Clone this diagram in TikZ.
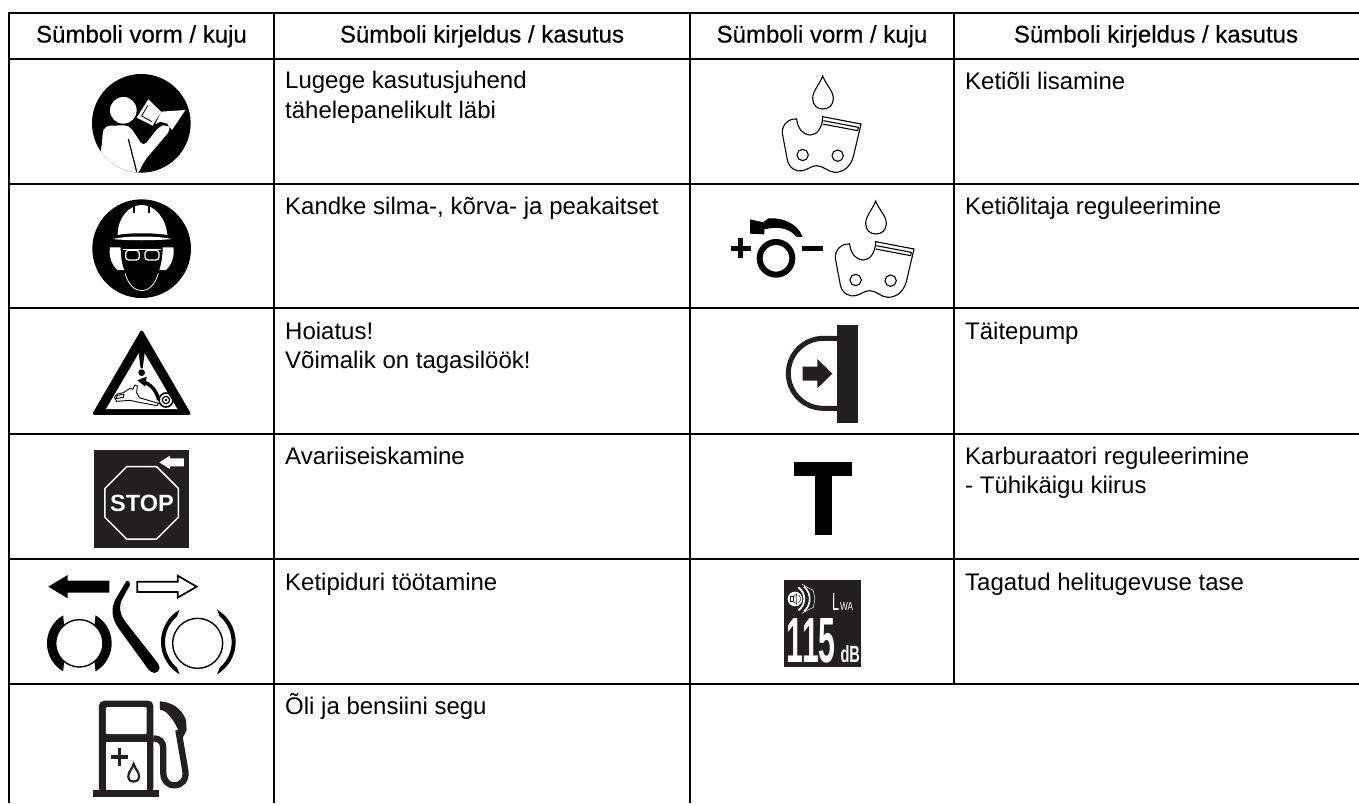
\documentclass[tikz,border=0pt]{standalone}
\usepackage{fontspec}
\usepackage{graphicx}
\usetikzlibrary{calc}
\setmainfont{Liberation Sans}
\newfontfamily\hdrfont[FakeBold=0.5]{Liberation Sans}
\definecolor{ink}{HTML}{231F20}
\tikzset{
  rule/.style={line width=2pt,black},
  thinrule/.style={line width=1.5pt,black},
  headtext/.style={anchor=base,inner sep=0pt,font=\hdrfont\fontsize{24}{28}\selectfont},
  desc/.style={anchor=base west,inner sep=0pt,align=left,font=\fontsize{24}{29.5}\selectfont},
  zoomed/.style={scale=1/3},
  linkline/.style={line width=1.1pt,black}
}
\newcommand{\oillink}[2]{%
 \begin{scope}[shift={(#1,#2)},zoomed]
  \draw[linkline] (428,228) .. controls (418,255) and (398,272) .. (398,296) .. controls (398,316) and (412,327) .. (428,327) .. controls (446,327) and (460,316) .. (460,296) .. controls (460,272) and (438,255) .. (428,228) -- cycle;
  \draw[linkline] (350,357) .. controls (325,355) and (305,375) .. (307,400) -- (322,480) .. controls (327,505) and (350,517) .. (368,512) .. controls (385,508) and (395,497) .. (410,497) .. controls (430,497) and (445,517) .. (465,517) .. controls (490,517) and (512,500) .. (520,470) -- (543,372) -- (428,350) .. controls (428,380) and (412,405) .. (392,405) .. controls (370,405) and (352,385) .. (350,357) -- cycle;
  \draw[linkline] (430,362) -- (535,382) -- (533,392) -- (428,372);
  \draw[linkline] (368,465) circle[radius=17];
  \draw[linkline] (473,467) circle[radius=17];
 \end{scope}}
\newcommand{\shoe}[5]{% centre x,y, mid angle, outer r, inner r
 \fill[black] ($(#1,#2)+(#3-60:#4)$) arc[start angle=#3-60,end angle=#3+60,radius=#4] -- ($(#1,#2)+(#3+50:#5)$) arc[start angle=#3+50,end angle=#3-50,radius=#5] -- cycle;}
\begin{document}
\begin{tikzpicture}[x=1pt,y=-1pt]
\useasboundingbox (0,0) rectangle (1359,803);
% table rules
\foreach \yy in {13.3,59,183.7,308.3,434,559,684}{\draw[rule] (8,\yy) -- (1359,\yy);}
\draw[rule] (9,12.3) -- (9,803);
\draw[rule] (274,12.3) -- (274,803);
\draw[rule] (690,12.3) -- (690,803);
\draw[thinrule] (954,12.3) -- (954,684);
% headers
\node[headtext] (h1) at (141.5,42.5) {Sümboli vorm / kuju};
\node[headtext] (h2) at (482,42.5) {Sümboli kirjeldus / kasutus};
\node[headtext] (h3) at (822,42.5) {Sümboli vorm / kuju};
\node[headtext] (h4) at (1156,42.5) {Sümboli kirjeldus / kasutus};
% descriptions (anchored on the last line's baseline)
\node[desc] (t1) at (285,118.3) {Lugege kasutusjuhend\\tähelepanelikult läbi};
\node[desc] (t2) at (285,214) {Kandke silma-, kõrva- ja peakaitset};
\node[desc] (t3) at (285,368.5) {Hoiatus!\\Võimalik on tagasilöök!};
\node[desc] (t4) at (285,464.5) {Avariiseiskamine};
\node[desc] (t5) at (285,590) {Ketipiduri töötamine};
\node[desc] (t6) at (285,714) {Õli ja bensiini segu};
\node[desc] (t7) at (965,89) {Ketiõli lisamine};
\node[desc] (t8) at (965,214) {Ketiõlitaja reguleerimine};
\node[desc] (t9) at (965,339) {Täitepump};
\node[desc] (t10) at (965,493.5) {Karburaatori reguleerimine\\- Tühikäigu kiirus};
\node[desc] (t11) at (965,590) {Tagatud helitugevuse tase};
% icon 1: read manual
\begin{scope}[shift={(80,65)},zoomed]
 \fill[black] (184,175) circle[radius=148];
 \begin{scope}
  \clip (184,175) circle[radius=148];
  \fill[white] (130,136) circle[radius=40];
  \fill[white,rounded corners=5pt] (67,230) -- (67,205) -- (75,182) -- (148,181) -- (190,245) -- (238,184) -- (262,178) -- (274,192) -- (195,285) -- (172,330) -- (50,330) -- cycle;
  \draw[black,line width=1.2pt] (145,222) -- (170,320);
  \fill[white] (205,103) -- (170,158) -- (218,182) -- (243,140) -- cycle;
  \draw[black,line width=.8pt] (203,122) -- (185,153) -- (216,170);
  \fill[white] (243,140) -- (316,135) -- (276,195) -- (262,176) -- (240,170) -- (226,178) -- cycle;
 \end{scope}
\end{scope}
% icon 2: protective gear
\begin{scope}[shift={(80,190)},zoomed]
 \fill[black] (185,176) circle[radius=148];
 \fill[white] (113,135) .. controls (113,85) and (145,45) .. (185,45) .. controls (225,45) and (258,85) .. (262,135) .. controls (225,128) and (145,128) .. (113,135) -- cycle;
 \fill[black] (160,40) rectangle (166,68);
 \fill[black] (204,40) rectangle (210,68);
 \fill[white] (98,147) .. controls (140,137) and (230,137) .. (276,147) .. controls (230,152) and (140,152) .. (98,147) -- cycle;
 \fill[white] (90,172) -- (122,172) .. controls (122,195) and (125,220) .. (132,240) -- (112,240) .. controls (95,225) and (85,195) .. (90,172) -- cycle;
 \fill[white] (280,172) -- (248,172) .. controls (248,195) and (245,220) .. (238,240) -- (258,240) .. controls (275,225) and (285,195) .. (280,172) -- cycle;
 \draw[white,line width=1.3pt,rounded corners=3pt] (137,181) rectangle (178,210);
 \draw[white,line width=1.3pt,rounded corners=3pt] (195,181) rectangle (237,210);
 \draw[white,line width=1.3pt] (128,178) -- (242,178);
 \draw[white,line width=.8pt] (135,250) .. controls (145,285) and (165,302) .. (185,302) .. controls (205,302) and (225,285) .. (235,250);
\end{scope}
% icon 3: warning triangle
\begin{scope}[shift={(80,320)},zoomed]
 \filldraw[black,line width=3pt,line join=round] (185,36) -- (43,280) -- (327,280) -- cycle;
 \fill[white] (185,85) -- (78,267) -- (292,267) -- cycle;
 \fill[black] (175,92) .. controls (175,84) and (195,84) .. (195,92) -- (188,145) -- (182,145) -- cycle;
 \fill[black] (185,158) circle[radius=10];
 \draw[black,line width=3.5pt] (236,240) .. controls (230,212) and (212,192) .. (190,186);
 \fill[black] (172,181) -- (200,170) -- (196,200) -- cycle;
 \draw[black,line width=.9pt] (103,232) -- (112,222) -- (130,218) -- (150,205) -- (158,208) -- (165,195) -- (172,198) -- (170,218) -- (178,233) -- (235,250) -- (232,257) -- (172,246) -- (150,241) -- (110,244) -- cycle;
 \draw[black,line width=.9pt] (112,226) -- (108,236) -- (130,232) -- (132,223) -- cycle;
 \begin{scope}
  \clip (78,267) -- (292,267) -- (292,200) -- (200,200) -- cycle;
  \draw[black,line width=1.6pt] (258,240) circle[radius=21];
  \draw[black,line width=1.2pt] (258,240) circle[radius=11];
  \fill[black] (258,240) circle[radius=4];
 \end{scope}
\end{scope}
% icon 4: stop
\fill[ink] (94,450) rectangle (188.7,547.5);
\begin{scope}[shift={(0,265)},zoomed]
 \draw[white,line width=1.5pt] (380,605) -- (470,605) -- (535,670) -- (535,757) -- (470,822) -- (380,822) -- (315,757) -- (315,670) -- cycle;
 \node[white,inner sep=0pt,font=\bfseries\fontsize{23.5}{24}\selectfont] (stoptext) at (426,715) {STOP};
 \fill[white] (478,592) -- (510,572) -- (510,580) -- (552,580) -- (552,604) -- (510,604) -- (510,612) -- cycle;
\end{scope}
% icon 5: chain brake
\begin{scope}[shift={(0,530)},zoomed]
 \fill[black] (145,170) -- (203,135) -- (203,152) -- (328,152) -- (328,188) -- (203,188) -- (203,205) -- cycle;
 \draw[black,line width=1.7pt,fill=white] (412,155) -- (533,155) -- (533,137) -- (590,170) -- (533,203) -- (533,186) -- (412,186) -- cycle;
 \fill[black,rounded corners=2pt] (381,150) -- (393,160) -- (368,205) .. controls (358,225) and (358,245) .. (372,270) -- (478,405) -- (450,425) -- (352,290) .. controls (335,260) and (335,235) .. (345,210) -- cycle;
 \fill[black] (463,413) circle[radius=16];
 \draw[black,line width=1.4pt] (238,340) circle[radius=71];
 \shoe{238}{340}{180}{97}{71}
 \shoe{238}{340}{0}{97}{71}
 \draw[black,line width=1.4pt] (593,340) circle[radius=75];
 \shoe{595}{336}{180}{112}{100}
 \shoe{595}{336}{0}{112}{100}
\end{scope}
% icon 6: fuel pump
\begin{scope}[shift={(0,530)},zoomed]
 \fill[ink] (280,780) rectangle (477,801);
 \fill[ink,rounded corners=5pt] (297,790) -- (297,512) -- (460,512) -- (460,790) -- cycle;
 \fill[white,rounded corners=1pt] (318,531) rectangle (440,612);
 \fill[white] (318,636) rectangle (440,780);
 \fill[ink] (333,676) rectangle (384,686);
 \fill[ink] (353,655) rectangle (364,707);
 \draw[ink,line width=2.2pt] (401,702) .. controls (395,720) and (385,725) .. (385,739) .. controls (385,750) and (392,755) .. (401,755) .. controls (410,755) and (417,750) .. (417,739) .. controls (417,725) and (407,720) .. (401,702) -- cycle;
 \draw[ink,line width=6.3pt] (460,625) .. controls (478,625) and (490,635) .. (490,655) -- (490,730) .. controls (490,752) and (505,766) .. (522,766) .. controls (545,766) and (560,750) .. (556,722) -- (535,600);
 \fill[ink] (480,514) .. controls (515,516) and (545,535) .. (558,570) -- (560,600) -- (546,628) .. controls (535,600) and (525,575) .. (510,560) .. controls (500,545) and (490,540) .. (480,540) -- cycle;
\end{scope}
% right column icons
\oillink{680}{0}
\oillink{733}{125}
\begin{scope}[shift={(730,190)},zoomed]
 \fill[black] (3,168) rectangle (62,182);
 \fill[black] (25,143) rectangle (38,205);
 \draw[black,line width=6pt] (138,205) circle[radius=49];
 \fill[black] (216,168) rectangle (278,182);
 \fill[black] (60,88) -- (60,131) -- (103,133) -- (103,118) .. controls (145,108) and (180,115) .. (198,140) -- (218,141) .. controls (205,105) and (165,82) .. (115,85) -- (100,97) -- cycle;
\end{scope}
\begin{scope}[shift={(680,265)},zoomed]
 \fill[ink] (472,180) rectangle (534,473);
 \draw[ink,line width=5pt] (472,220) -- (430,220) arc[start angle=-90,end angle=-270,radius=105] -- (472,430);
 \fill[ink] (368,305) -- (412,305) -- (412,282) -- (457,326) -- (412,370) -- (412,347) -- (368,347) -- cycle;
 \fill[black] (342,591) rectangle (517,634);
 \fill[black] (406,634) rectangle (455,809);
\end{scope}
% sound level
\fill[ink] (784,580) rectangle (861,667);
\begin{scope}[shift={(780,530)},zoomed]
 \node[white,inner sep=0pt,anchor=south west] (n115) at (20,400) {\resizebox{49pt}{44pt}{\bfseries 115}};
 \node[white,inner sep=0pt,anchor=south west] (ndb) at (181,400) {\resizebox{19.5pt}{17pt}{\bfseries dB}};
 \node[white,inner sep=0pt,anchor=south west] (nl) at (156,243) {\resizebox{7pt}{17pt}{L}};
 \node[white,inner sep=0pt,anchor=south west] (nwa) at (180,243) {\resizebox{13pt}{8pt}{WA}};
 \fill[white] (45,207) circle[radius=22];
 \draw[ink,line width=.6pt] (32,200) rectangle (40,214);
 \draw[ink,line width=.6pt] (40,200) -- (50,192) -- (50,222) -- (40,214);
 \draw[ink,line width=.5pt] (56,195) arc[start angle=-50,end angle=50,radius=16];
 \draw[ink,line width=.5pt] (60,188) arc[start angle=-50,end angle=50,radius=25];
 \draw[white,line width=1.8pt] (55,172) arc[start angle=-55,end angle=55,radius=42];
 \draw[white,line width=1.6pt] (72,170) arc[start angle=-50,end angle=50,radius=48];
 \draw[white,line width=.5pt] (65,162) -- (100,182) -- (105,207) -- (100,232) -- (65,250);
\end{scope}
\end{tikzpicture}
\end{document}
